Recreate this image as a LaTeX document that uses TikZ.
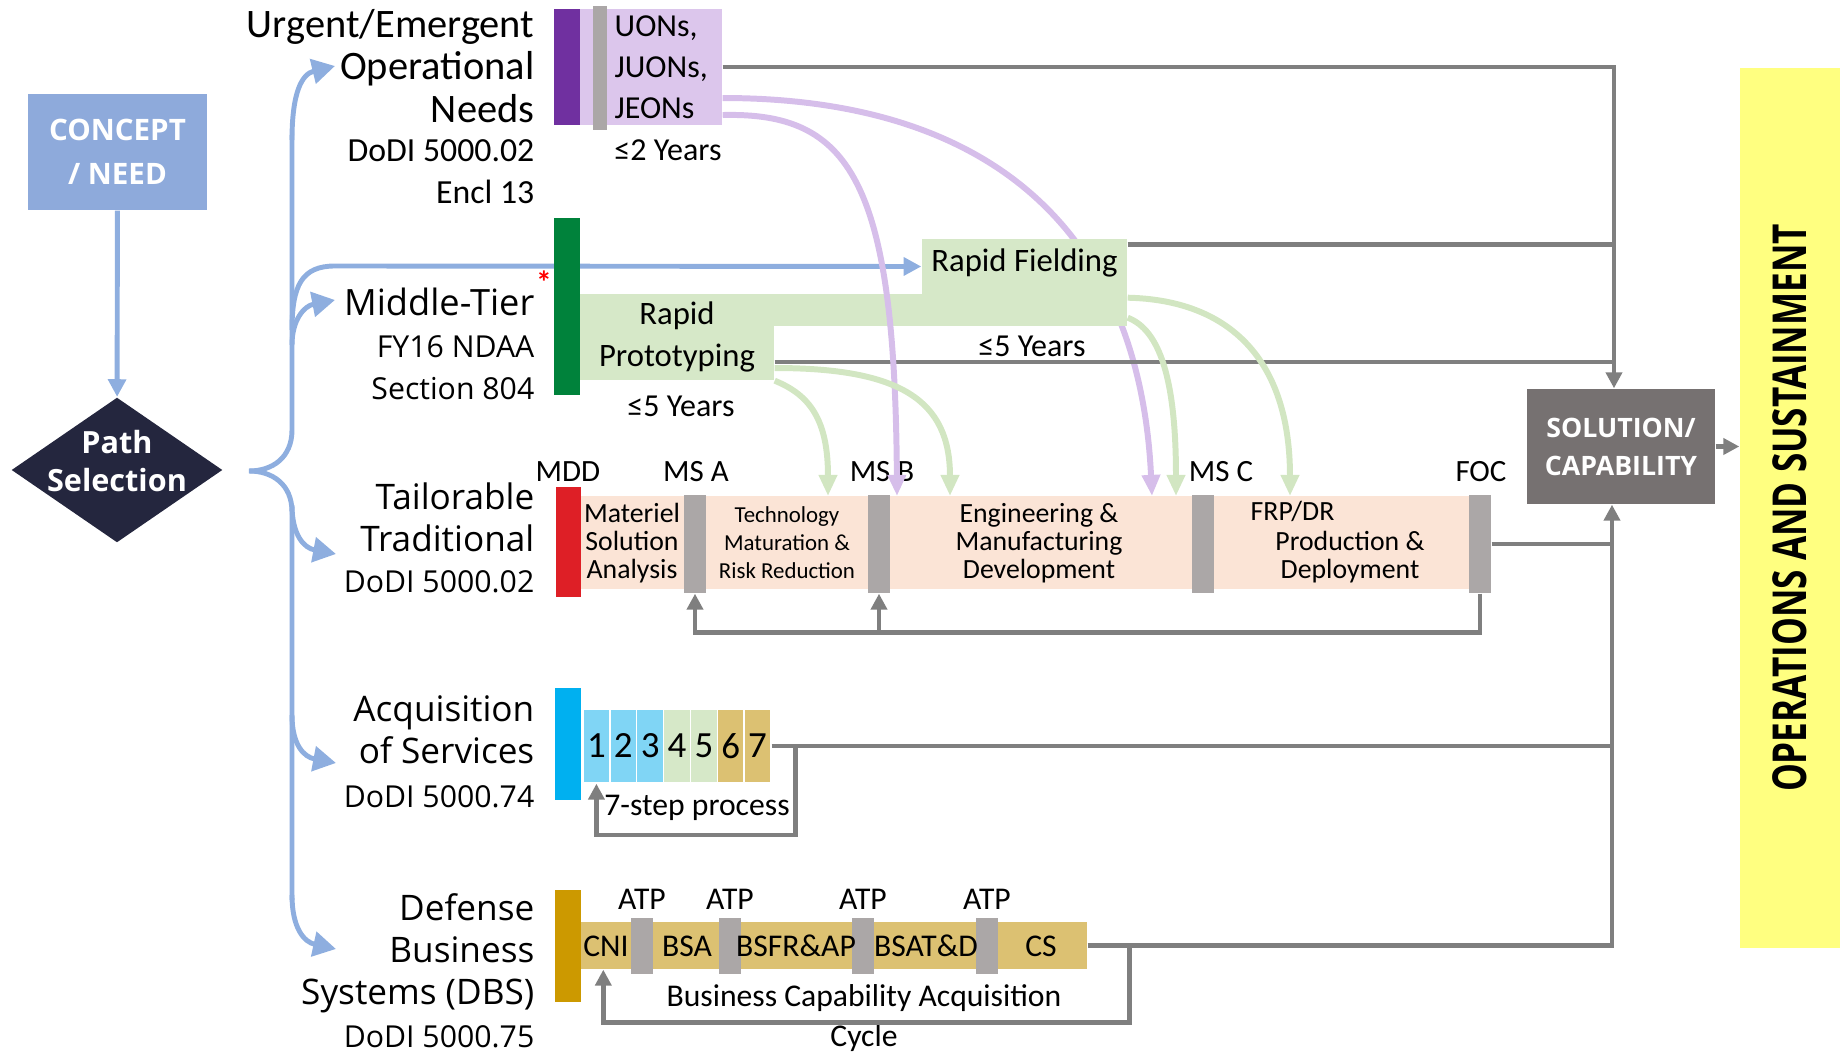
\documentclass[tikz,border=0pt]{standalone}
\usepackage{fontspec}
\setmainfont{Carlito}
\newfontfamily\uifont{Open Sans}
\newfontfamily\narrowbold[FakeStretch=0.75]{Open Sans}
\usepackage{tikz}
\usetikzlibrary{shapes,arrows,positioning,calc,fit,backgrounds,arrows.meta}

\definecolor{conceptblue}{HTML}{8EAADB}
\definecolor{pathnavy}{HTML}{24263E}
\definecolor{branchblue}{HTML}{8EAEDF}
\definecolor{uonpurple}{HTML}{7030A0}
\definecolor{uonlilac}{HTML}{DCC6EC}
\definecolor{lilacline}{HTML}{D6BEEA}
\definecolor{mtgreen}{HTML}{00823B}
\definecolor{mtlight}{HTML}{D6E8C8}
\definecolor{greenline}{HTML}{D2E6C2}
\definecolor{ttred}{HTML}{DE1F26}
\definecolor{ttpeach}{HTML}{FBE4D6}
\definecolor{acqcyan}{HTML}{00B0F0}
\definecolor{acqlight}{HTML}{80D5F5}
\definecolor{dbsgold}{HTML}{CC9900}
\definecolor{dbstan}{HTML}{DCC172}
\definecolor{markgray}{HTML}{ABA7A7}
\definecolor{linegray}{HTML}{7F7F7F}
\definecolor{solgray}{HTML}{767171}
\definecolor{opsyellow}{HTML}{FFFF80}

\begin{document}
\begin{tikzpicture}[
    x=0.01cm, y=-0.01cm,
    box/.style={rectangle, inner sep=0pt, draw=none},
    marker/.style={box, fill=markgray},
    boxtxt/.style={align=center, inner sep=0pt},
    titlelbl/.style={anchor=east, align=right, inner sep=0pt, font=\uifont\fontsize{10}{12}\selectfont},
    reflbl/.style={anchor=east, align=right, inner sep=0pt, font=\uifont\fontsize{8.6}{12}\selectfont},
    msl/.style={inner sep=0pt, font=\fontsize{8.8}{10}\selectfont},
    phasetxt/.style={align=center, inner sep=0pt, font=\fontsize{7.9}{8}\selectfont},
    yrs/.style={inner sep=0pt, font=\fontsize{9.1}{11}\selectfont},
    grayline/.style={draw=linegray, line width=1.3pt},
    grayarrow/.style={grayline, -{Triangle[width=4.5pt,length=4.5pt]}},
    bluepath/.style={draw=branchblue, line width=1.4pt},
    bluearrow/.style={bluepath, -{Triangle[width=7pt,length=6.5pt]}},
    lilaccurve/.style={draw=lilacline, line width=1.7pt, -{Triangle[width=5pt,length=6pt]}},
    greencurve/.style={draw=greenline, line width=1.7pt, -{Triangle[width=5pt,length=6pt]}}
]
    \useasboundingbox (0,0) rectangle (1847,1055);

    % concept and path selection
    \node [box, fill=conceptblue, fit={(28,94) (207,210)}] (concept) {};
    \node [boxtxt, text=white, font=\uifont\bfseries\fontsize{8.4}{12.5}\selectfont] (concepttxt) at (concept.center) {CONCEPT\\/ NEED};
    \node [diamond, fill=pathnavy, inner sep=0pt, minimum width=2.11cm, minimum height=1.45cm] (path) at (117,470) {};
    \node [boxtxt, text=white, font=\uifont\bfseries\fontsize{8.7}{10.8}\selectfont] (pathtxt) at ([yshift=0.09cm]path.center) {Path\\Selection};
    \draw [bluepath, -{Triangle[width=5pt,length=5pt]}] (concept) -- (path);

    % pathway names
    \node [titlelbl, font=\fontsize{11.5}{12}\selectfont] (uontitle) at (535,66) {Urgent/Emergent\\Operational\\Needs};
    \node [reflbl, font=\fontsize{9.6}{12}\selectfont] (uonref) at (535,172) {DoDI 5000.02\\Encl 13};
    \node [titlelbl, font=\uifont\fontsize{10.3}{12}\selectfont] (mttitle) at (535,302) {Middle-Tier};
    \node [inner sep=0pt, text=red, font=\bfseries\fontsize{9}{9}\selectfont] (mtstar) at (544,282) {*};
    \node [reflbl] (mtref) at (535,368) {FY16 NDAA\\Section 804};
    \node [titlelbl] (tttitle) at (535,517) {Tailorable\\Traditional};
    \node [reflbl] (ttref) at (535,582) {DoDI 5000.02};
    \node [titlelbl] (acqtitle) at (535,730) {Acquisition\\of Services};
    \node [reflbl] (acqref) at (535,797) {DoDI 5000.74};
    \node [titlelbl] (dbstitle) at (535,953) {Defense\\Business\\Systems (DBS)};
    \node [reflbl] (dbsref) at (535,1037) {DoDI 5000.75};

    % urgent needs
    \node [box, fill=uonpurple, fit={(554,9) (580,125)}] (uonbar) {};
    \node [box, fill=uonlilac, fit={(580,9) (722,125)}] (uonbox) {};
    \node [marker, fit={(593,6) (607,130)}] (uonmark) {};
    \node [anchor=west, align=left, inner sep=0pt, font=\fontsize{9.1}{11.7}\selectfont] (uontxt) at (614,67) {UONs,\\JUONs,\\JEONs};
    \node [yrs] (uonyrs) at (668,150) {≤2 Years};

    % middle tier
    \node [box, fill=mtgreen, fit={(554,218) (580,395)}] (mtbar) {};
    \node [box, fill=mtlight, fit={(580,294) (1127,326)}] (band) {};
    \node [box, fill=mtlight, fit={(922,239) (1127,294)}] (rf) {};
    \node [box, fill=mtlight, fit={(580,294) (774,380)}] (rp) {};
    \node [boxtxt, font=\fontsize{9.3}{12}\selectfont] (rftxt) at ([yshift=0.04cm]rf.center) {Rapid Fielding};
    \node [boxtxt, font=\fontsize{9.3}{12}\selectfont] (rptxt) at (rp.center) {Rapid\\Prototyping};
    \node [yrs] (rpyrs) at (681,406) {≤5 Years};
    \node [yrs] (rfyrs) at (1032,346) {≤5 Years};

    % tailorable traditional
    \node [box, fill=ttred, fit={(556,487) (581,597)}] (ttbar) {};
    \node [box, fill=ttpeach, fit={(581,496) (1489,589)}] (ttbox) {};
    \foreach \name/\xa in {msa/684, msb/868, msc/1192, foc/1469}
        \node [marker, fit={(\xa,495) (\xa+22,593)}] (\name) {};
    \foreach \name/\xc/\txt in {mdd/568/MDD, msa/696/MS A, msb/882/MS B, msc/1221/MS C, foc/1481/FOC}
        \node [msl] (lbl\name) at (\xc,472) {\txt};
    \node [phasetxt] (msatxt) at (632,543) {Materiel\\Solution\\Analysis};
    \node [phasetxt, font=\fontsize{6.5}{8}\selectfont] (tmrrtxt) at (787,543) {Technology\\Maturation \&\\Risk Reduction};
    \node [phasetxt] (emdtxt) at (1039,543) {Engineering \&\\Manufacturing\\Development};
    \node [phasetxt, anchor=west] (frptxt) at (1250,511) {FRP/DR};
    \node [phasetxt] (pdtxt) at (1350,557) {Production \&\\Deployment};

    % acquisition of services
    \node [box, fill=acqcyan, fit={(555,688) (581,800)}] (acqbar) {};
    \foreach \i/\c in {1/acqlight,2/acqlight,3/acqlight,4/mtlight,5/mtlight,6/dbstan,7/dbstan}
        \node [box, fill=\c, draw=white, line width=0.4pt, minimum width=0.2686cm, minimum height=0.74cm, font=\fontsize{10.5}{12}\selectfont] (cell\i) at (583+26.86*\i-13.43,746) {\i};
    \node [inner sep=0pt, font=\fontsize{9}{11}\selectfont] (steptxt) at (697,808) {7-step process};

    % defense business systems
    \node [box, fill=dbsgold, fit={(555,890) (581,1002)}] (dbsbar) {};
    \node [box, fill=dbstan, fit={(581,922) (1087,969)}] (dbsbox) {};
    \foreach \name/\xa in {atpa/631, atpb/719, atpc/852, atpd/976} {
        \node [marker, fit={(\xa,918) (\xa+22,974)}] (\name) {};
        \node [msl, font=\fontsize{9}{10}\selectfont] (lbl\name) at (\xa+11,899) {ATP};
    }
    \foreach \txt/\xc [count=\k] in {CNI/606, BSA/687, BSFR\&AP/796, BSAT\&D/926, CS/1041}
        \node [inner sep=0pt, font=\fontsize{9}{10}\selectfont] (dbsph\k) at (\xc,946) {\txt};
    \node [inner sep=0pt, font=\fontsize{9}{11}\selectfont] (bcatxt) at (864,998) {Business Capability Acquisition};
    \node [inner sep=0pt, font=\fontsize{9}{11}\selectfont] (cycletxt) at (864,1038) {Cycle};

    % solution and O&S
    \node [box, fill=solgray, fit={(1527,389) (1715,504)}] (solution) {};
    \node [boxtxt, text=white, font=\uifont\bfseries\fontsize{7.6}{10.8}\selectfont] (soltxt) at (solution.center) {SOLUTION/\\CAPABILITY};
    \node [box, fill=opsyellow, fit={(1740,68) (1840,948)}] (ops) {};
    \node [rotate=90, inner sep=0pt, font=\narrowbold\bfseries\fontsize{13.3}{13.3}\selectfont] (opstxt) at (1790,508) {OPERATIONS AND SUSTAINMENT};

    \coordinate (fork) at (249,471);
    \coordinate (uontip) at (335,66);
    \coordinate (mttip) at (335,300);
    \coordinate (tttip) at (336,554);
    \coordinate (acqtip) at (336,763);
    \coordinate (dbstip) at (336,949);
    \coordinate (upbus) at (1614,67);
    \coordinate (lowbus) at (1612,948);
    \coordinate (dropa) at (828,496);
    \coordinate (dropb) at (897,496);
    \coordinate (dropc) at (950,496);
    \coordinate (dropd) at (1152,496);
    \coordinate (drope) at (1176,496);
    \coordinate (dropf) at (1290,496);

    % branches out of path selection
    \begin{scope}[on background layer]
        \draw [bluepath] (fork) .. controls (272,471) and (292,458) .. (292,430) -- (292,135);
        \draw [bluearrow] (292,140) .. controls (292,92) and (302,74) .. (uontip);
        \draw [bluepath, -{Triangle[width=5pt,length=5pt]}] (292,330) .. controls (292,285) and (302,266) .. (335,266) -- (rf.west);
        \draw [bluearrow] (292,345) .. controls (292,320) and (304,306) .. (mttip);
        \draw [bluepath] (fork) .. controls (272,471) and (292,484) .. (292,512) -- (292,900);
        \draw [bluearrow] (292,505) .. controls (292,535) and (304,548) .. (tttip);
        \draw [bluearrow] (292,715) .. controls (292,745) and (304,757) .. (acqtip);
        \draw [bluearrow] (292,895) .. controls (292,928) and (304,942) .. (dbstip);
        \draw [lilaccurve] ([yshift=-0.31cm]uonbox.east) .. controls (1000,98) and (1140,240) .. (dropd);
    \end{scope}

    % into solution / capability
    \draw [grayarrow] (uonbox.east) -| ([xshift=-0.07cm]solution.north);
    \draw [grayline] ([yshift=-0.06cm]rf.north east) -- ([yshift=-0.06cm]rf.north east -| upbus);
    \draw [grayline] ([yshift=-0.25cm]rp.east) -- ([yshift=-0.25cm]rp.east -| upbus);
    \draw [grayarrow] (dbsbox.east) -| ([xshift=-0.09cm]solution.south);
    \draw [grayline] (foc.east) -- (foc.east -| lowbus);
    \draw [grayline] (cell7.east) -- (cell7.east -| lowbus);
    \draw [grayarrow] (solution.east) -- (solution.east -| ops.west);

    % feedback loops
    \coordinate (ttloop) at ([yshift=-0.39cm]foc.south);
    \draw [grayarrow] (foc.south) -- (ttloop) -| (msa.south);
    \draw [grayarrow] (ttloop -| msb.south) -- (msb.south);
    \draw [grayarrow] ([xshift=0.24cm]cell7.east) -- ++(0,89) -| (cell1.south);
    \draw [grayarrow] ([xshift=0.42cm]dbsbox.east) -- ++(0,77) -| ([xshift=0.23cm]dbsbox.south west);

    % on-ramps into the traditional path
    \draw [lilaccurve] ([yshift=-0.48cm]uonbox.east) .. controls (850,112) and (895,180) .. (dropb);
    \draw [greencurve] (rp.south east) .. controls (810,395) and (828,420) .. (dropa);
    \draw [greencurve] ([yshift=-0.31cm]rp.east) .. controls (900,368) and (950,400) .. (dropc);
    \draw [greencurve] ([yshift=0.09cm]band.south east) .. controls (1160,330) and (1176,380) .. (drope);
    \draw [greencurve] ([yshift=-0.03cm]rf.south east) .. controls (1230,300) and (1290,360) .. (dropf);
\end{tikzpicture}
\end{document}
